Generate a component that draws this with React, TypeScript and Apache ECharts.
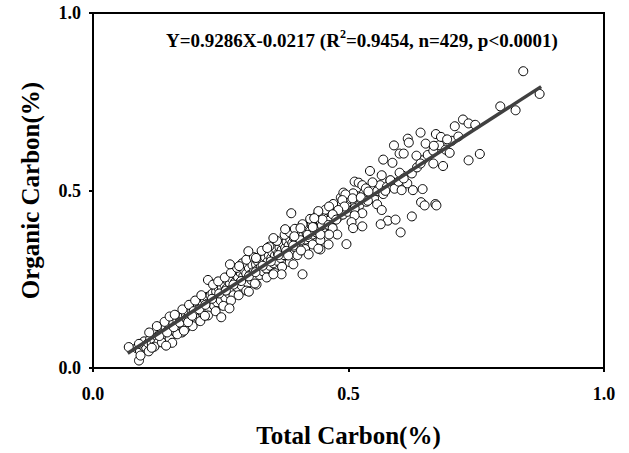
import React, { useEffect, useRef } from "react";
import * as echarts from "echarts";

const xTicks = [0, 0.5, 1.0];
const yTicks = [0, 0.5, 1.0];
const slope = 0.9286;
const intercept = -0.0217;
const lineX = [0.068, 0.877];
const eqText = ["Y=0.9286X-0.0217 (R", "2", "=0.9454, n=429, p<0.0001)"];

const outliers: number[][] = [
  [0.842,0.836],[0.874,0.772],[0.797,0.737],[0.827,0.726],[0.724,0.700],[0.708,0.681],[0.735,0.689],[0.748,0.685],
  [0.641,0.663],[0.671,0.659],[0.681,0.651],[0.693,0.644],[0.616,0.646],[0.618,0.635],[0.651,0.632],[0.667,0.626],
  [0.589,0.627],[0.600,0.604],[0.608,0.604],[0.633,0.598],[0.698,0.606],[0.757,0.603],[0.735,0.585],[0.568,0.587],
  [0.586,0.578],[0.641,0.576],[0.666,0.576],[0.685,0.569],[0.565,0.543],[0.542,0.555],[0.600,0.550],[0.608,0.534],
  [0.582,0.529],[0.547,0.523],[0.512,0.525],[0.520,0.522],[0.527,0.515],[0.534,0.506],[0.572,0.499],[0.604,0.501],
  [0.626,0.501],[0.645,0.504],[0.509,0.492],[0.539,0.497],[0.490,0.494],[0.494,0.489],[0.488,0.473],[0.508,0.478],
  [0.524,0.481],[0.538,0.471],[0.556,0.461],[0.642,0.467],[0.649,0.458],[0.670,0.462],[0.672,0.458],[0.492,0.455],
  [0.480,0.445],[0.512,0.450],[0.565,0.445],[0.527,0.436],[0.512,0.430],[0.577,0.415],[0.563,0.405],[0.592,0.418],
  [0.624,0.427],[0.602,0.382],[0.506,0.411],[0.509,0.394],[0.527,0.399],[0.496,0.349],[0.388,0.436],[0.462,0.455],
  [0.469,0.433],[0.441,0.442],[0.449,0.418],[0.433,0.422],[0.476,0.418],[0.461,0.403],[0.469,0.394],[0.478,0.376],
  [0.462,0.376],[0.406,0.394],[0.376,0.391],[0.394,0.371],[0.430,0.397],[0.445,0.376],[0.461,0.348],[0.445,0.334],
  [0.441,0.336],[0.422,0.320],[0.407,0.331],[0.382,0.317],[0.410,0.264],[0.392,0.292],[0.369,0.264],[0.353,0.264],
  [0.353,0.366],[0.304,0.329],[0.319,0.310],[0.341,0.338],[0.317,0.238],[0.305,0.215],[0.268,0.292],[0.286,0.287],
  [0.267,0.168],[0.251,0.143],[0.219,0.147],[0.155,0.071],[0.143,0.063],[0.090,0.021],[0.093,0.035],[0.070,0.059],
  [0.090,0.068],[0.109,0.047],[0.115,0.057],[0.178,0.105],[0.186,0.129],[0.194,0.147]
];

const band: number[][] = [
  [0.085,0.056],[0.092,0.048],[0.098,0.062],[0.100,0.075],[0.104,0.058],[0.108,0.070],[0.112,0.082],[0.115,0.068],
  [0.118,0.095],[0.120,0.078],[0.123,0.102],[0.126,0.088],[0.128,0.072],[0.131,0.096],[0.134,0.110],[0.136,0.085],
  [0.139,0.100],[0.142,0.115],[0.144,0.092],[0.147,0.106],[0.150,0.120],[0.152,0.098],[0.155,0.112],[0.157,0.128],
  [0.160,0.104],[0.162,0.118],[0.165,0.135],[0.167,0.110],[0.170,0.140],[0.172,0.125],[0.174,0.100],[0.177,0.145],
  [0.179,0.132],[0.182,0.150],[0.184,0.118],[0.186,0.158],[0.189,0.140],[0.191,0.126],[0.193,0.162],[0.196,0.150],
  [0.198,0.135],[0.200,0.170],[0.203,0.155],[0.205,0.172],[0.207,0.140],[0.210,0.178],[0.212,0.160],[0.214,0.185],
  [0.216,0.150],[0.219,0.192],[0.221,0.170],[0.223,0.200],[0.225,0.182],[0.228,0.162],[0.230,0.205],[0.232,0.188],
  [0.234,0.210],[0.237,0.175],[0.239,0.198],[0.241,0.215],[0.243,0.185],[0.246,0.225],[0.248,0.205],[0.250,0.190],
  [0.252,0.228],[0.255,0.212],[0.257,0.235],[0.259,0.198],[0.262,0.225],[0.264,0.245],[0.266,0.210],[0.268,0.238],
  [0.271,0.222],[0.273,0.250],[0.275,0.205],[0.278,0.242],[0.280,0.262],[0.282,0.228],[0.284,0.255],[0.287,0.240],
  [0.289,0.268],[0.291,0.232],[0.294,0.258],[0.296,0.275],[0.298,0.248],[0.300,0.266],[0.303,0.240],[0.305,0.282],
  [0.307,0.262],[0.310,0.248],[0.312,0.290],[0.314,0.270],[0.317,0.255],[0.319,0.292],[0.321,0.276],[0.323,0.300],
  [0.326,0.262],[0.328,0.284],[0.330,0.305],[0.333,0.272],[0.335,0.296],[0.337,0.312],[0.339,0.280],[0.342,0.300],
  [0.344,0.318],[0.346,0.288],[0.349,0.310],[0.351,0.326],[0.353,0.295],[0.356,0.316],[0.358,0.335],[0.360,0.302],
  [0.362,0.322],[0.365,0.340],[0.367,0.310],[0.369,0.332],[0.372,0.350],[0.374,0.318],[0.376,0.338],[0.379,0.356],
  [0.381,0.325],[0.383,0.345],[0.386,0.362],[0.388,0.332],[0.390,0.352],[0.393,0.368],[0.395,0.340],[0.397,0.360],
  [0.400,0.376],[0.402,0.348],[0.404,0.366],[0.407,0.385],[0.409,0.355],[0.411,0.372],[0.414,0.390],[0.416,0.362],
  [0.418,0.380],[0.421,0.398],[0.423,0.368],[0.425,0.386],[0.428,0.405],[0.430,0.376],[0.432,0.392],[0.435,0.412],
  [0.437,0.382],[0.439,0.400],[0.442,0.418],[0.444,0.390],[0.446,0.408],[0.449,0.425],[0.451,0.396],[0.453,0.415],
  [0.456,0.432],[0.458,0.404],[0.460,0.422],[0.463,0.440],[0.465,0.410],[0.468,0.428],[0.470,0.446],[0.473,0.418],
  [0.475,0.436],[0.478,0.452],[0.480,0.425],[0.483,0.444],[0.486,0.460],[0.489,0.432],[0.492,0.450],[0.495,0.468],
  [0.498,0.440],[0.502,0.458],[0.505,0.476],[0.509,0.448],[0.513,0.466],[0.517,0.484],[0.521,0.458],[0.525,0.475],
  [0.530,0.492],[0.535,0.468],[0.540,0.485],[0.545,0.502],[0.550,0.478],[0.556,0.498],[0.562,0.515],[0.568,0.490],
  [0.575,0.510],[0.582,0.528],[0.590,0.505],[0.598,0.525],[0.606,0.542],[0.615,0.520],[0.624,0.548],[0.634,0.565],
  [0.644,0.585],[0.655,0.600],[0.666,0.612],[0.678,0.628],[0.690,0.615],[0.702,0.640],[0.715,0.652]
];

const upperEdge: number[][] = [
  [0.110,0.100],[0.125,0.118],[0.140,0.130],[0.150,0.145],[0.160,0.150],[0.175,0.165],[0.188,0.178],[0.200,0.190],
  [0.212,0.205],[0.225,0.248],[0.235,0.235],[0.245,0.244],[0.258,0.255],[0.270,0.268],[0.282,0.282],[0.292,0.295],
  [0.300,0.305],[0.315,0.312],[0.330,0.330],[0.345,0.342],[0.360,0.358],[0.375,0.375],[0.385,0.382],[0.395,0.392],
  [0.410,0.405],[0.425,0.420],[0.440,0.432],[0.455,0.446],[0.470,0.462],[0.485,0.480]
];

const lowerEdge: number[][] = [
  [0.120,0.060],[0.135,0.072],[0.150,0.082],[0.165,0.095],[0.180,0.110],[0.195,0.118],[0.210,0.132],[0.225,0.148],
  [0.240,0.160],[0.255,0.175],[0.270,0.190],[0.285,0.205],[0.300,0.218],[0.320,0.235],[0.340,0.255],[0.355,0.268],
  [0.370,0.285],[0.385,0.298],[0.400,0.318],[0.415,0.335],[0.430,0.348],[0.445,0.360]
];

const midFill: number[][] = [
  [0.130,0.090],[0.145,0.100],[0.158,0.115],[0.170,0.128],[0.183,0.138],[0.197,0.160],[0.208,0.165],[0.220,0.178],
  [0.233,0.195],[0.247,0.210],[0.260,0.218],[0.275,0.235],[0.290,0.245],[0.305,0.258],[0.318,0.270],[0.332,0.288],
  [0.348,0.300],[0.363,0.318],[0.378,0.330],[0.392,0.345],[0.406,0.360],[0.420,0.375],[0.434,0.388],[0.448,0.402],
  [0.462,0.415],[0.476,0.430],[0.490,0.445]
];

const FONT = "'Liberation Serif', 'Times New Roman', serif";

export default function App() {
  const ref = useRef<HTMLDivElement>(null);
  useEffect(() => {
    if (!ref.current) return;
    const chart = echarts.init(ref.current, undefined, { renderer: "svg" });
    const points = [...band, ...upperEdge, ...lowerEdge, ...midFill, ...outliers];
    const lineData = lineX.map((x) => [x, slope * x + intercept]);
    chart.setOption({
      animation: false,
      backgroundColor: "#fff",
      grid: { left: 93, right: 25, top: 13, bottom: 81, show: true, borderColor: "#000", borderWidth: 2 },
      xAxis: {
        type: "value",
        min: 0,
        max: 1,
        interval: 0.5,
        name: "Total Carbon(%)",
        nameLocation: "middle",
        nameGap: 55,
        nameTextStyle: { fontFamily: FONT, fontWeight: "bold", fontSize: 25, color: "#000" },
        axisLine: { show: true, lineStyle: { color: "#000", width: 2 } },
        axisTick: { show: true, inside: false, length: 4, lineStyle: { color: "#000", width: 2 } },
        axisLabel: {
          margin: 17,
          fontFamily: FONT,
          fontWeight: "bold",
          fontSize: 18,
          color: "#000",
          formatter: (v: number) => (xTicks.includes(v) ? v.toFixed(1) : ""),
        },
        splitLine: { show: false },
      },
      yAxis: {
        type: "value",
        min: 0,
        max: 1,
        interval: 0.5,
        name: "Organic Carbon(%)",
        nameLocation: "middle",
        nameGap: 50,
        nameTextStyle: { fontFamily: FONT, fontWeight: "bold", fontSize: 25, color: "#000" },
        axisLine: { show: true, lineStyle: { color: "#000", width: 2 } },
        axisTick: { show: true, inside: false, length: 4, lineStyle: { color: "#000", width: 2 } },
        axisLabel: {
          margin: 12,
          fontFamily: FONT,
          fontWeight: "bold",
          fontSize: 18,
          color: "#000",
          formatter: (v: number) => (yTicks.includes(v) ? v.toFixed(1) : ""),
        },
        splitLine: { show: false },
      },
      series: [
        {
          type: "scatter",
          data: points,
          symbol: "circle",
          symbolSize: 9,
          itemStyle: { color: "#fff", borderColor: "#000", borderWidth: 1, opacity: 1 },
          z: 2,
        },
        {
          type: "line",
          data: lineData,
          showSymbol: false,
          symbol: "none",
          lineStyle: { color: "#404040", width: 3.5 },
          z: 3,
        },
      ],
      graphic: [
        {
          type: "text",
          left: 166,
          top: 28,
          style: {
            text: `{n|${eqText[0]}}{s|${eqText[1]}}{n|${eqText[2]}}`,
            rich: {
              n: { fontFamily: FONT, fontWeight: "bold", fontSize: 19, fill: "#000", verticalAlign: "bottom", lineHeight: 22 },
              s: { fontFamily: FONT, fontWeight: "bold", fontSize: 12, fill: "#000", verticalAlign: "top", lineHeight: 22, padding: [0, 0, 9, 0] },
            },
          },
        },
      ],
    });
    return () => chart.dispose();
  }, []);
  return <div ref={ref} style={{ width: 629, height: 453, position: "absolute", left: 0, top: 0 }} />;
}
